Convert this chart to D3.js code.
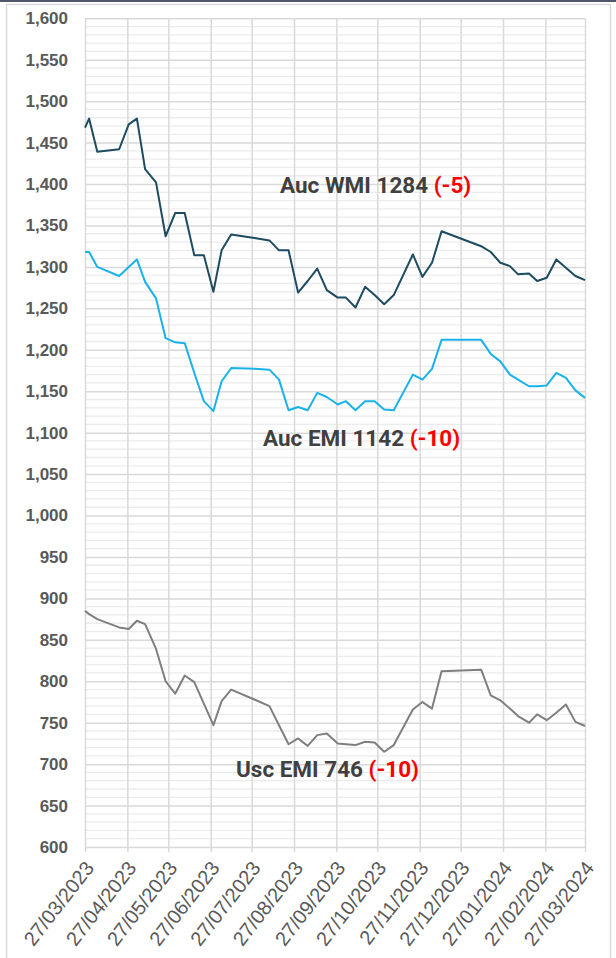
<!DOCTYPE html>
<html><head><meta charset="utf-8">
<script src="https://cdn.jsdelivr.net/npm/d3@7"></script>
<style>
html,body{margin:0;padding:0;background:#fff;}
svg{display:block;}
</style></head>
<body>
<svg id="chart" width="616" height="958"></svg>
<script>
const dates = ["2023-03-27","2023-03-30","2023-04-05","2023-04-21","2023-04-28","2023-05-04","2023-05-10","2023-05-18","2023-05-25","2023-06-01","2023-06-08","2023-06-15","2023-06-22","2023-06-29","2023-07-05","2023-07-12","2023-07-29","2023-08-09","2023-08-16","2023-08-23","2023-08-30","2023-09-06","2023-09-13","2023-09-20","2023-09-28","2023-10-04","2023-10-11","2023-10-18","2023-10-25","2023-11-01","2023-11-08","2023-11-22","2023-11-29","2023-12-06","2023-12-13","2024-01-11","2024-01-18","2024-01-25","2024-02-01","2024-02-07","2024-02-15","2024-02-21","2024-02-28","2024-03-06","2024-03-13","2024-03-20","2024-03-27"];
const aucWMI = [1468,1479,1439,1442,1472,1479,1418,1402,1337,1365,1365,1314,1314,1270,1320,1339,1335,1332,1320,1320,1269,1283,1298,1272,1263,1263,1251,1276,1266,1255,1266,1315,1288,1305,1343,1325,1318,1305,1301,1291,1292,1283,1287,1309,1299,1289,1284];
const aucEMI = [1318,1318,1300,1289,1300,1309,1282,1262,1214,1209,1208,1172,1138,1126,1162,1178,1177,1176,1164,1127,1131,1127,1148,1143,1134,1138,1127,1138,1138,1128,1127,1170,1164,1177,1212,1212,1195,1186,1170,1164,1156,1156,1157,1172,1166,1151,1142];
const uscEMI = [885,881,875,865,863,873,869,839,800,785,807,799,773,747,776,790,778,770,747,724,731,722,735,737,725,724,723,727,726,715,723,766,775,767,812,814,783,777,767,758,750,760,753,762,772,751,746];
const xTickLabels = ["27/03/2023","27/04/2023","27/05/2023","27/06/2023","27/07/2023","27/08/2023","27/09/2023","27/10/2023","27/11/2023","27/12/2023","27/01/2024","27/02/2024","27/03/2024"];
const yTicks = [600,650,700,750,800,850,900,950,1000,1050,1100,1150,1200,1250,1300,1350,1400,1450,1500,1550,1600];
const seriesNames = ["Auc WMI 1284","Auc EMI 1142","Usc EMI 746"];
const seriesChanges = ["(-5)","(-10)","(-10)"];

const parseISO = d3.timeParse("%Y-%m-%d");
const parseTick = d3.timeParse("%d/%m/%Y");
const fmtTick = d3.timeFormat("%d/%m/%Y");
const svg = d3.select("#chart");

// frame
svg.append("rect").attr("x",0).attr("y",0).attr("width",616).attr("height",2).attr("fill","#4f586a");
svg.append("rect").attr("x",6.5).attr("y",4.5).attr("width",604).attr("height",960).attr("fill","#fff").attr("stroke","#d9d9d9").attr("stroke-width",1.5);

const x = d3.scaleTime().domain([parseISO("2023-03-27"), parseISO("2024-03-27")]).range([85,585]);
const y = d3.scaleLinear().domain([600,1600]).range([847,18.3]);

// minor gridlines
const minor = d3.range(600,1601,10).filter(v => v % 50 !== 0);
svg.append("g").selectAll("line").data(minor).join("line")
  .attr("x1",85).attr("x2",585).attr("y1",d=>y(d)).attr("y2",d=>y(d))
  .attr("stroke","#ececec").attr("stroke-width",1.3);

// major horizontal via axis
const yAxis = d3.axisLeft(y).tickValues(yTicks).tickSize(-500).tickFormat(d3.format(","));
const gy = svg.append("g").attr("transform","translate(85,0)").call(yAxis);
gy.select(".domain").remove();
gy.selectAll(".tick line").attr("stroke","#d9d9d9").attr("stroke-width",1.5);
gy.selectAll(".tick text").attr("x",-17).attr("fill","#595959")
  .attr("font-family","'Liberation Sans', Arial, sans-serif").attr("font-weight","bold").attr("font-size","17px");

// vertical gridlines via axis
const tickDates = xTickLabels.map(parseTick);
const xAxis = d3.axisBottom(x).tickValues(tickDates).tickSize(-(847-18.3)-5).tickFormat(fmtTick);
const gx = svg.append("g").attr("transform","translate(0,852)").call(xAxis);
gx.select(".domain").remove();
gx.selectAll(".tick line").attr("stroke","#d9d9d9").attr("stroke-width",1.5);
gx.selectAll(".tick text")
  .attr("fill","#595959").attr("font-family","'Liberation Sans', Arial, sans-serif")
  .attr("font-weight","normal").attr("font-size","20px")
  .attr("text-anchor","end").attr("x",0).attr("y",0).attr("dy","0.35em")
  .attr("transform","translate(4,12) rotate(-52)");

// lines
const line = vals => d3.line().x((d,i)=>x(parseISO(dates[i]))).y(d=>y(d))(vals);
const colors = ["#1d4b60","#1ab2ec","#7f7f7f"];
[aucWMI,aucEMI,uscEMI].forEach((s,i)=>{
  svg.append("path").attr("d",line(s)).attr("fill","none").attr("stroke",colors[i])
    .attr("stroke-width",2).attr("stroke-linejoin","round");
});

// annotations
const ann = [[280,192.5],[263,446],[236,777]];
ann.forEach((p,i)=>{
  const t = svg.append("text").attr("x",p[0]).attr("y",p[1])
    .attr("font-family","Roboto, 'Noto Sans', sans-serif").attr("font-weight","bold").attr("font-size","22.5px");
  t.append("tspan").attr("fill","#404040").text(seriesNames[i]+" ");
  t.append("tspan").attr("fill","#ff0000").text(seriesChanges[i]);
});
</script>
</body></html>
